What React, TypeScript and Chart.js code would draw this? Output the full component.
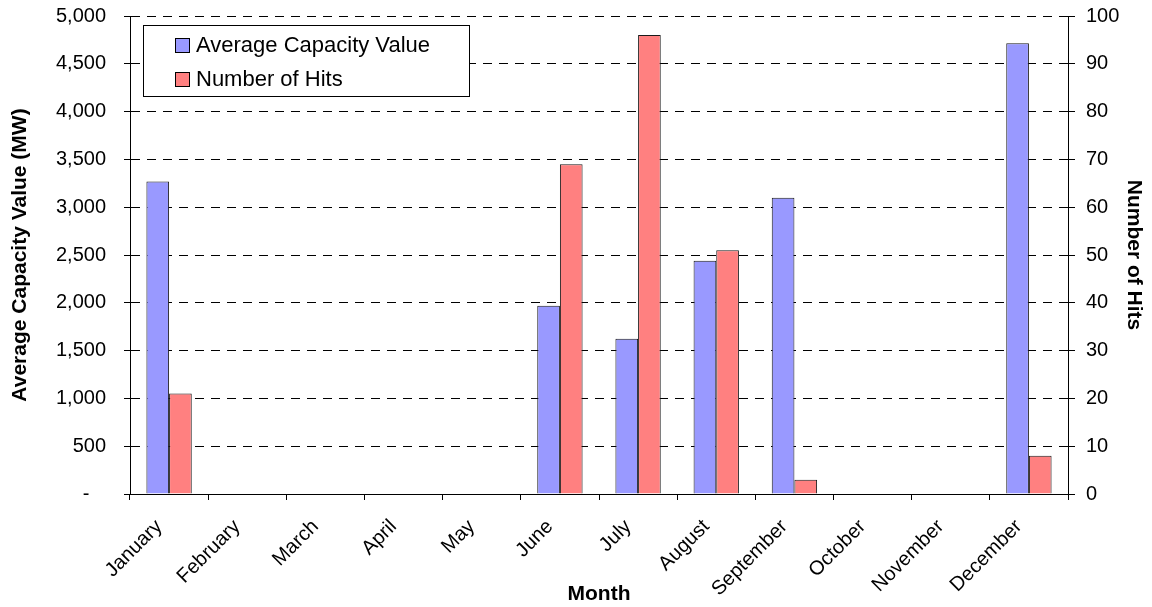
import { useEffect, useRef } from "react";
import { Chart, registerables } from "chart.js";

Chart.register(...registerables);

const months = [
  "January", "February", "March", "April", "May", "June",
  "July", "August", "September", "October", "November", "December",
];
const capacityMW = [3270, 0, 0, 0, 0, 1970, 1625, 2440, 3100, 0, 0, 4715];
const hitCounts = [21, 0, 0, 0, 0, 69, 96, 51, 3, 0, 0, 8];

const FONT = "'Liberation Sans', Arial, Helvetica, sans-serif";

const legendBoxPlugin = {
  id: "legendBox",
  afterDraw(chart: any) {
    const { ctx, chartArea } = chart;
    const x = Math.round(chartArea.left + 13);
    const y = Math.round(chartArea.top + 9);
    const w = 326;
    const h = 71;
    ctx.save();
    ctx.fillStyle = "#ffffff";
    ctx.fillRect(x, y, w, h);
    ctx.strokeStyle = "#000000";
    ctx.lineWidth = 1;
    ctx.strokeRect(x + 0.5, y + 0.5, w, h);
    chart.data.datasets.forEach((ds: any, i: number) => {
      const cy = y + 19.5 + i * 34;
      const sx = x + 32;
      ctx.fillStyle = ds.backgroundColor;
      ctx.fillRect(sx, Math.round(cy - 7), 14, 14);
      ctx.strokeStyle = "#000000";
      ctx.strokeRect(sx + 0.5, Math.round(cy - 7) + 0.5, 14, 14);
      ctx.fillStyle = "#000000";
      ctx.font = `22px ${FONT}`;
      ctx.textBaseline = "middle";
      ctx.textAlign = "left";
      ctx.fillText(ds.label, x + 53, cy + 1);
    });
    ctx.restore();
  },
};

const zeroPad = (s: any) => {
  s.paddingTop = 0;
  s.paddingBottom = 0;
};

export default function App() {
  const ref = useRef<HTMLCanvasElement>(null);

  useEffect(() => {
    document.body.style.margin = "0";
    const chart = new Chart(ref.current as HTMLCanvasElement, {
      type: "bar",
      data: {
        labels: months,
        datasets: [
          {
            label: "Average Capacity Value",
            data: capacityMW,
            yAxisID: "y",
            backgroundColor: "#9999FF",
            borderColor: "#1a1a1a",
            borderWidth: 1,
          },
          {
            label: "Number of Hits",
            data: hitCounts,
            yAxisID: "y2",
            backgroundColor: "#FF8080",
            borderColor: "#1a1a1a",
            borderWidth: 1,
          },
        ],
      },
      options: {
        animation: false,
        responsive: true,
        maintainAspectRatio: false,
        layout: { padding: { top: 16, left: 0, right: 0, bottom: 0 } },
        plugins: {
          legend: { display: false },
          tooltip: { enabled: false },
        },
        datasets: {
          bar: { categoryPercentage: 0.58, barPercentage: 1 },
        },
        scales: {
          x: {
            offset: true,
            grid: {
              display: true,
              drawOnChartArea: false,
              drawTicks: true,
              tickLength: 6,
              color: "#000000",
              offset: true,
            },
            border: { display: true, color: "#000000", width: 1 },
            ticks: {
              maxRotation: 45,
              minRotation: 45,
              autoSkip: false,
              color: "#000000",
              font: { family: FONT, size: 20 },
              padding: 15,
              labelOffset: -10,
            },
            title: {
              display: true,
              text: "Month",
              color: "#000000",
              font: { family: FONT, size: 21, weight: "bold" },
              padding: { top: 0, bottom: 0 },
            },
            afterFit: (s: any) => {
              s.height = 113;
              s.paddingLeft = 0;
              s.paddingRight = 0;
            },
          },
          y: {
            position: "left",
            min: 0,
            max: 5000,
            ticks: {
              stepSize: 500,
              color: "#000000",
              font: { family: FONT, size: 20 },
              padding: 18,
              callback: (v: any) =>
                Number(v) === 0 ? "-   " : Number(v).toLocaleString("en-US"),
            },
            grid: {
              color: "#000000",
              lineWidth: 1,
              tickLength: 6,
              drawTicks: true,
            },
            border: { display: true, color: "#000000", width: 1, dash: [9, 7] },
            title: {
              display: true,
              text: "Average Capacity Value (MW)",
              color: "#000000",
              font: { family: FONT, size: 21, weight: "bold" },
              padding: { top: 8, bottom: 0 },
            },
            afterFit: (s: any) => {
              s.width = 130;
              zeroPad(s);
            },
          },
          y2: {
            position: "right",
            min: 0,
            max: 100,
            ticks: {
              stepSize: 10,
              color: "#000000",
              font: { family: FONT, size: 20 },
              padding: 11,
            },
            grid: {
              drawOnChartArea: false,
              color: "#000000",
              tickLength: 7,
              drawTicks: true,
            },
            border: { display: true, color: "#000000", width: 1 },
            title: {
              display: true,
              text: "Number of Hits",
              color: "#000000",
              font: { family: FONT, size: 21, weight: "bold" },
              padding: { top: 6, bottom: 0 },
            },
            afterFit: (s: any) => {
              s.width = 84;
              zeroPad(s);
            },
          },
        },
      },
      plugins: [legendBoxPlugin],
    } as any);
    return () => chart.destroy();
  }, []);

  return (
    <div style={{ position: "relative", width: 1152, height: 607 }}>
      <canvas ref={ref} />
    </div>
  );
}
